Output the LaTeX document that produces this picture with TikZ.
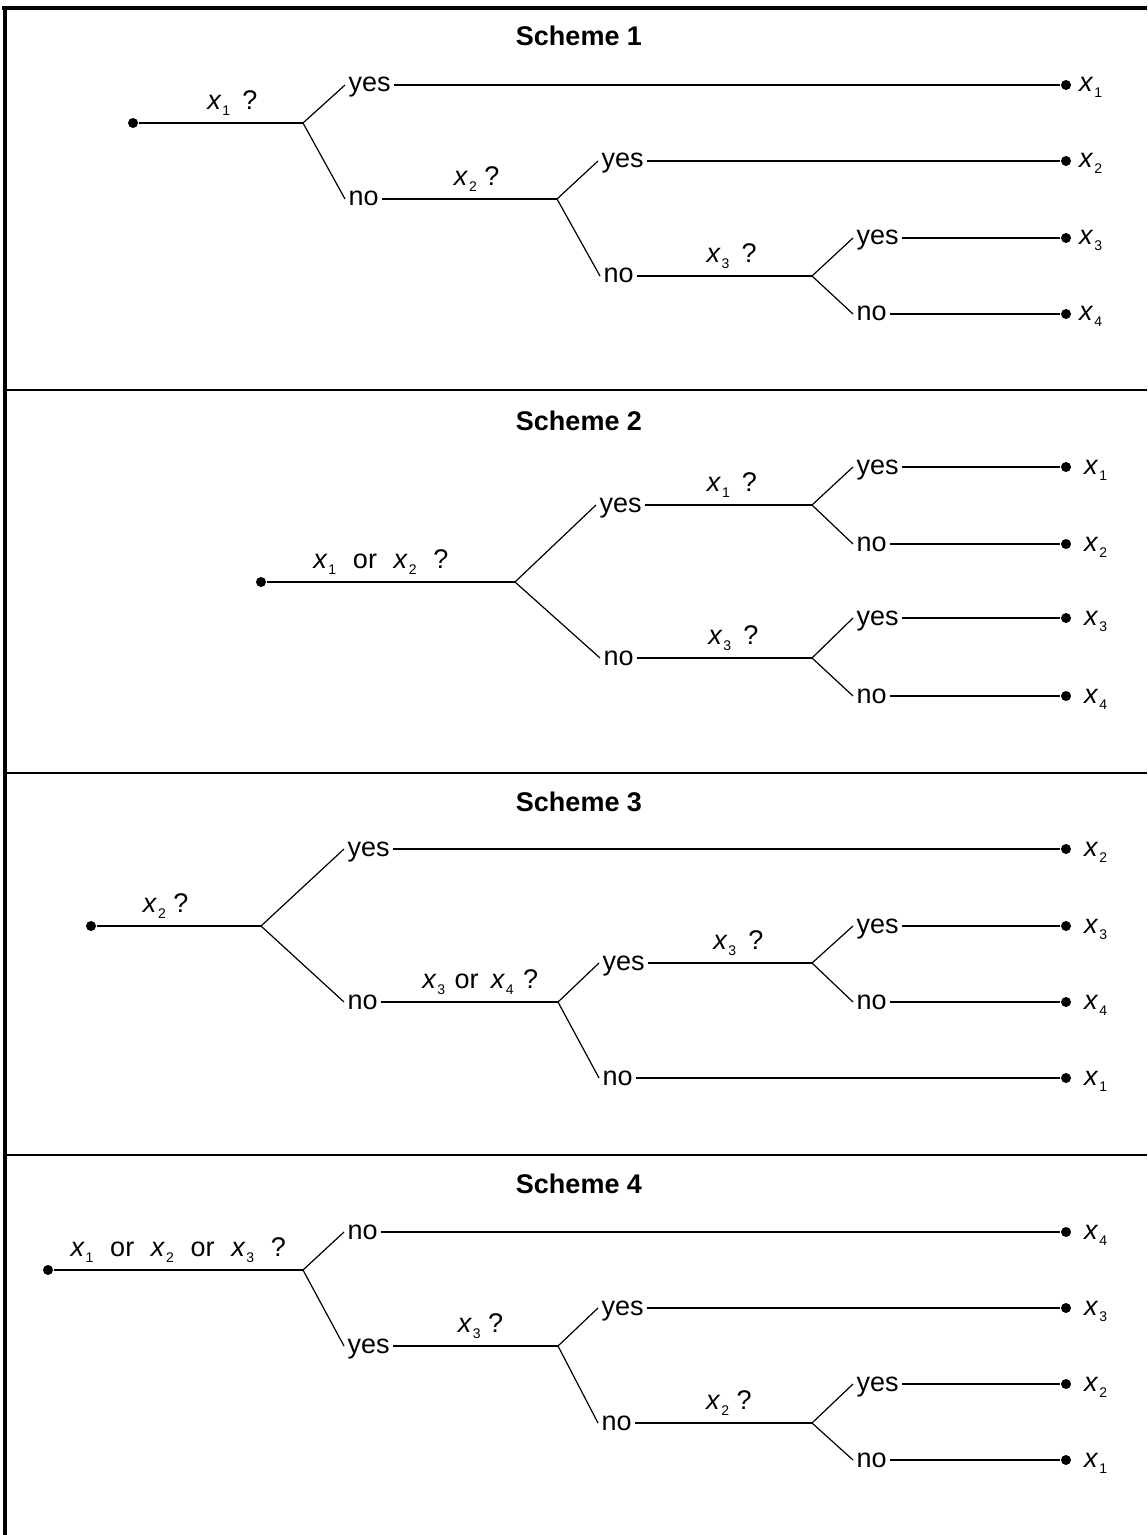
\documentclass[tikz,border=0pt]{standalone}
\usepackage{fontspec}
\setmainfont{Liberation Sans}
\usetikzlibrary{positioning}
\newcommand{\xs}[1]{\textit{x}\kern0.4pt\raisebox{-3pt}{\fontsize{7}{8}\selectfont #1}}
\newcommand{\gp}{\hspace{0.62em}}
\newcommand{\qg}{\hspace{0.45em}}

\begin{document}
\begin{tikzpicture}[x=0.5pt, y=-0.5pt, line width=0.6pt]
            \tikzstyle{every node} = [font=\fontsize{13.5}{16}\selectfont]
            \tikzstyle{ans} = [anchor=west, inner sep=1.5pt, text height=7pt, text depth=0pt]
            \tikzstyle{quest} = [above=6.5pt, inner sep=0pt, text depth=0pt]
            \tikzstyle{leaf} = [circle, fill, inner sep=0pt, minimum size=5pt]
            \tikzstyle{outcome} = [inner sep=0pt, text height=7pt, text depth=0pt]
            \tikzstyle{title} = [anchor=base, font=\fontsize{13.5}{16}\selectfont\bfseries]
            \useasboundingbox (0,0) rectangle (1147,1535);
            \draw[line width=2pt] (2,8) -- (1147,8);
            \draw[line width=2pt] (5,6) -- (5,1535);
            \draw[line width=1.1pt] (5,390) -- (1147,390);
            \draw[line width=1.1pt] (5,773) -- (1147,773);
            \draw[line width=1.1pt] (5,1155) -- (1147,1155);

            % Scheme 1
            \node[title] (t1) at (579,46) {Scheme 1};
            \node[leaf] (s1r) at (133,123) {};
            \coordinate (s1a) at (303,123);
            \coordinate (s1b) at (557,199);
            \coordinate (s1c) at (812,276);
            \node[ans] (s1y1) at (345,85) {yes};
            \node[ans] (s1n1) at (345,199) {no};
            \node[ans] (s1y2) at (598,161) {yes};
            \node[ans] (s1n2) at (600,276) {no};
            \node[ans] (s1y3) at (853,238) {yes};
            \node[ans] (s1n3) at (853,314) {no};
            \node[leaf] (s1e1) at (1066,85) {};
            \node[leaf] (s1e2) at (1066,161) {};
            \node[leaf] (s1e3) at (1066,238) {};
            \node[leaf] (s1e4) at (1066,314) {};
            \node[outcome, right=3.5pt of s1e1] (s1x1) {\xs{1}};
            \node[outcome, right=3.5pt of s1e2] (s1x2) {\xs{2}};
            \node[outcome, right=3.5pt of s1e3] (s1x3) {\xs{3}};
            \node[outcome, right=3.5pt of s1e4] (s1x4) {\xs{4}};
            \draw (s1r) -- node[quest, pos=.57] (s1q1) {\xs{1}\qg?} (s1a);
            \draw (s1a) -- (s1y1.west) (s1a) -- (s1n1.west);
            \draw (s1y1) -- (s1e1);
            \draw (s1n1) -- node[quest, pos=.54] (s1q2) {\xs{2} ?} (s1b);
            \draw (s1b) -- (s1y2.west) (s1b) -- (s1n2.west);
            \draw (s1y2) -- (s1e2);
            \draw (s1n2) -- node[quest, pos=.54] (s1q3) {\xs{3}\qg?} (s1c);
            \draw (s1c) -- (s1y3.west) (s1c) -- (s1n3.west);
            \draw (s1y3) -- (s1e3);
            \draw (s1n3) -- (s1e4);

            % Scheme 2
            \node[title] (t2) at (579,430) {Scheme 2};
            \node[leaf] (s2r) at (261,582) {};
            \coordinate (s2a) at (515,582);
            \coordinate (s2b) at (812,505);
            \coordinate (s2c) at (812,658);
            \node[ans] (s2y1) at (596,505) {yes};
            \node[ans] (s2n1) at (600,658) {no};
            \node[ans] (s2y2) at (853,467) {yes};
            \node[ans] (s2n2) at (853,544) {no};
            \node[ans] (s2y3) at (853,618) {yes};
            \node[ans] (s2n3) at (853,696) {no};
            \node[leaf] (s2e1) at (1066,467) {};
            \node[leaf] (s2e2) at (1066,544) {};
            \node[leaf] (s2e3) at (1066,618) {};
            \node[leaf] (s2e4) at (1066,696) {};
            \node[outcome, right=6pt of s2e1] (s2x1) {\xs{1}};
            \node[outcome, right=6pt of s2e2] (s2x2) {\xs{2}};
            \node[outcome, right=6pt of s2e3] (s2x3) {\xs{3}};
            \node[outcome, right=6pt of s2e4] (s2x4) {\xs{4}};
            \draw (s2r) -- node[quest, pos=.46] (s2q1) {\xs{1}\gp or\gp\xs{2}\gp?} (s2a);
            \draw (s2a) -- (s2y1.west) (s2a) -- (s2n1.west);
            \draw (s2y1) -- node[quest, pos=.52] (s2q2) {\xs{1}\qg?} (s2b);
            \draw (s2n1) -- node[quest, pos=.55] (s2q3) {\xs{3}\qg?} (s2c);
            \draw (s2b) -- (s2y2.west) (s2b) -- (s2n2.west);
            \draw (s2c) -- (s2y3.west) (s2c) -- (s2n3.west);
            \draw (s2y2) -- (s2e1);
            \draw (s2n2) -- (s2e2);
            \draw (s2y3) -- (s2e3);
            \draw (s2n3) -- (s2e4);

            % Scheme 3
            \node[title] (t3) at (579,811) {Scheme 3};
            \node[leaf] (s3r) at (91,926) {};
            \coordinate (s3a) at (261,926);
            \coordinate (s3b) at (558,1002);
            \coordinate (s3c) at (812,963);
            \node[ans] (s3y1) at (344,849) {yes};
            \node[ans] (s3n1) at (344,1002) {no};
            \node[ans] (s3y2) at (599,963) {yes};
            \node[ans] (s3n2) at (599,1078) {no};
            \node[ans] (s3y3) at (853,926) {yes};
            \node[ans] (s3n3) at (853,1002) {no};
            \node[leaf] (s3e1) at (1066,849) {};
            \node[leaf] (s3e2) at (1066,926) {};
            \node[leaf] (s3e3) at (1066,1002) {};
            \node[leaf] (s3e4) at (1066,1078) {};
            \node[outcome, right=6pt of s3e1] (s3x1) {\xs{2}};
            \node[outcome, right=6pt of s3e2] (s3x2) {\xs{3}};
            \node[outcome, right=6pt of s3e3] (s3x3) {\xs{4}};
            \node[outcome, right=6pt of s3e4] (s3x4) {\xs{1}};
            \draw (s3r) -- node[quest, pos=.42] (s3q1) {\xs{2} ?} (s3a);
            \draw (s3a) -- (s3y1.west) (s3a) -- (s3n1.west);
            \draw (s3y1) -- (s3e1);
            \draw (s3n1) -- node[quest, pos=.56] (s3q2) {\xs{3}\hspace{0.35em}or\hspace{0.45em}\xs{4}\hspace{0.35em}?} (s3b);
            \draw (s3b) -- (s3y2.west) (s3b) -- (s3n2.west);
            \draw (s3y2) -- node[quest, pos=.55] (s3q3) {\xs{3}\qg?} (s3c);
            \draw (s3n2) -- (s3e4);
            \draw (s3c) -- (s3y3.west) (s3c) -- (s3n3.west);
            \draw (s3y3) -- (s3e2);
            \draw (s3n3) -- (s3e3);

            % Scheme 4
            \node[title] (t4) at (579,1193) {Scheme 4};
            \node[leaf] (s4r) at (48,1270) {};
            \coordinate (s4a) at (303,1270);
            \coordinate (s4b) at (558,1346);
            \coordinate (s4c) at (812,1423);
            \node[ans] (s4n1) at (344,1232) {no};
            \node[ans] (s4y1) at (344,1346) {yes};
            \node[ans] (s4y2) at (598,1308) {yes};
            \node[ans] (s4n2) at (598,1423) {no};
            \node[ans] (s4y3) at (853,1384) {yes};
            \node[ans] (s4n3) at (853,1460) {no};
            \node[leaf] (s4e1) at (1066,1232) {};
            \node[leaf] (s4e2) at (1066,1308) {};
            \node[leaf] (s4e3) at (1066,1384) {};
            \node[leaf] (s4e4) at (1066,1460) {};
            \node[outcome, right=6pt of s4e1] (s4x1) {\xs{4}};
            \node[outcome, right=6pt of s4e2] (s4x2) {\xs{3}};
            \node[outcome, right=6pt of s4e3] (s4x3) {\xs{2}};
            \node[outcome, right=6pt of s4e4] (s4x4) {\xs{1}};
            \draw (s4r) -- node[quest, pos=.5] (s4q1) {\xs{1}\gp or\gp\xs{2}\gp or\gp\xs{3}\gp?} (s4a);
            \draw (s4a) -- (s4n1.west) (s4a) -- (s4y1.west);
            \draw (s4n1) -- (s4e1);
            \draw (s4y1) -- node[quest, pos=.53] (s4q2) {\xs{3} ?} (s4b);
            \draw (s4b) -- (s4y2.west) (s4b) -- (s4n2.west);
            \draw (s4y2) -- (s4e2);
            \draw (s4n2) -- node[quest, pos=.53] (s4q3) {\xs{2} ?} (s4c);
            \draw (s4c) -- (s4y3.west) (s4c) -- (s4n3.west);
            \draw (s4y3) -- (s4e3);
            \draw (s4n3) -- (s4e4);
        \end{tikzpicture}
\end{document}
